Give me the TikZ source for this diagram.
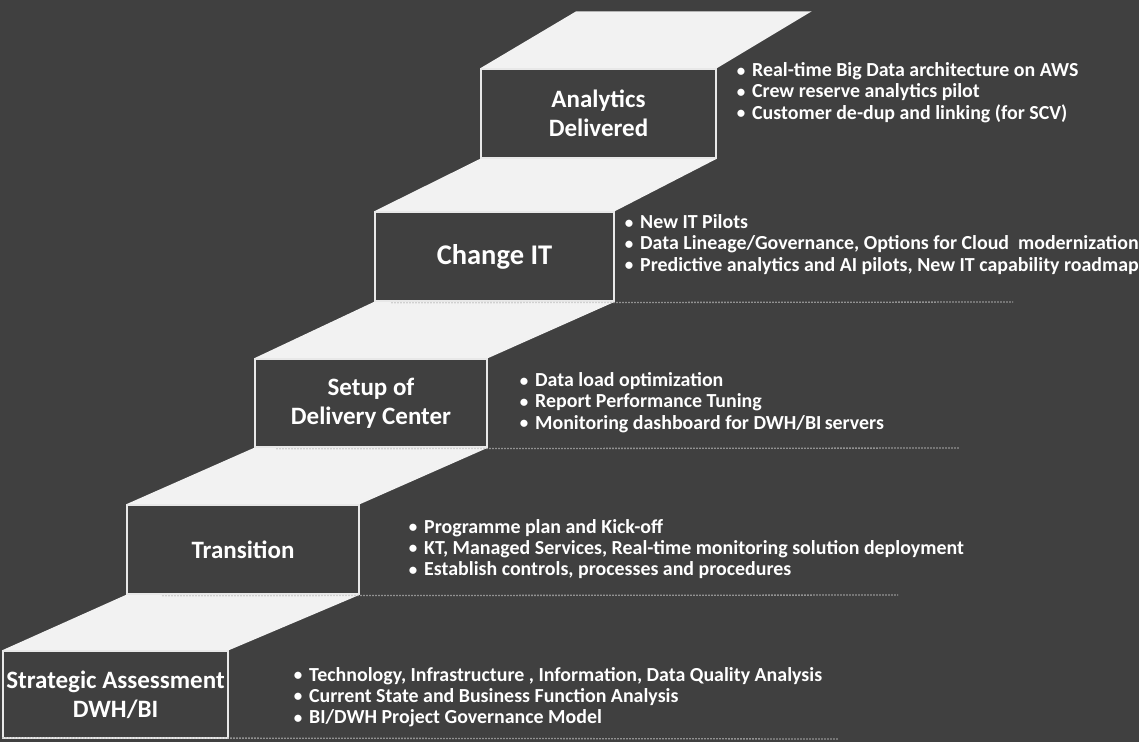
\documentclass[tikz,border=0pt]{standalone}
\usepackage{fontspec}
\setmainfont{Carlito}
\definecolor{bg}{HTML}{404040}
\definecolor{tread}{HTML}{F2F2F2}
\definecolor{edge}{HTML}{E8E8E8}
\definecolor{dots}{HTML}{BFBFBF}
\newcommand\blt{\makebox[0pt][r]{\raisebox{0.5pt}{\scalebox{0.85}{\textbullet}}\hspace{7pt}}}
\tikzset{
  stepbox/.style={draw=edge, line width=1.5pt, fill=bg, text=white, inner sep=0pt,
    align=center, font=\bfseries\fontsize{25}{29}\selectfont},
  treadfill/.style={fill=tread},
  dotline/.style={draw=dots, line width=1.3pt, dash pattern=on 1.3pt off 1.7pt},
  bullets/.style={text=white, inner sep=0pt, anchor=base west,
    font=\bfseries\fontsize{19.9}{21.4}\selectfont}
}
\begin{document}
\begin{tikzpicture}[x=1pt,y=-1pt]
\fill[bg] (0,0) rectangle (1139,742);
\useasboundingbox (0,0) rectangle (1139,742);

% boxes (placed first for anchors, redrawn on top later)
\path
  (115.5,694.5) node[stepbox, minimum width=225pt, minimum height=87pt] (b1) {}
  (243,549.5)   node[stepbox, minimum width=232pt, minimum height=89pt] (b2) {}
  (371,403)     node[stepbox, minimum width=232pt, minimum height=88pt] (b3) {}
  (494.5,256.5) node[stepbox, minimum width=239pt, minimum height=89pt] (b4) {}
  (598.5,113.5) node[stepbox, minimum width=235pt, minimum height=89pt] (b5) {};
\coordinate (tl) at ([shift={(96,-57)}]b5.north west);
\coordinate (tr) at ([shift={(95,-57)}]b5.north east);

% treads
\fill[treadfill] (b1.north west) -- (b2.south west) -- (b2.south east) -- (b1.north east) -- cycle;
\fill[treadfill] (b2.north west) -- (b3.south west) -- (b3.south east) -- (b2.north east) -- cycle;
\fill[treadfill] (b3.north west) -- (b4.south west) -- (b4.south east) -- (b3.north east) -- cycle;
\fill[treadfill] (b4.north west) -- (b5.south west) -- (b5.south east) -- (b4.north east) -- cycle;
\fill[treadfill] (b5.north west) -- (tl) -- (tr) -- (b5.north east) -- cycle;

% boxes with labels
\node[stepbox, minimum width=225pt, minimum height=87pt] at (b1) {Strategic Assessment\\DWH/BI};
\node[stepbox, minimum width=232pt, minimum height=89pt] at (b2) {Transition};
\node[stepbox, minimum width=232pt, minimum height=88pt] at (b3) {Setup of\\Delivery Center};
\node[stepbox, minimum width=239pt, minimum height=89pt, font=\bfseries\fontsize{28.5}{32}\selectfont] at (b4) {Change IT};
\node[stepbox, minimum width=235pt, minimum height=89pt] at (b5) {Analytics\\Delivered};

% dotted base lines
\coordinate (e1) at (838,739);
\coordinate (e2) at (898,595);
\coordinate (e3) at (960,448);
\coordinate (e4) at (1013,302);
\draw[dotline] ([yshift=1pt]b1.south west) -- (e1);
\draw[dotline] ([shift={(36,1)}]b2.south west) -- (e2);
\draw[dotline] ([shift={(22,1)}]b3.south west) -- (e3);
\draw[dotline] ([shift={(17,1)}]b4.south west) -- (e4);

% bullet lists
\node[bullets] (l5) at (752,76.5) {\begin{tabular}[t]{@{}l@{}}
\blt Real-time Big Data architecture on AWS\\
\blt Crew reserve analytics pilot\\
\blt Customer de-dup and linking (for SCV)\end{tabular}};
\node[bullets] (l4) at (640,228.5) {\begin{tabular}[t]{@{}l@{}}
\blt New IT Pilots\\
\blt Data Lineage/Governance, Options for Cloud~ modernization\\
\blt Predictive analytics and AI pilots, New IT capability roadmap\end{tabular}};
\node[bullets] (l3) at (535,386.5) {\begin{tabular}[t]{@{}l@{}}
\blt Data load optimization\\
\blt Report Performance Tuning\\
\blt Monitoring dashboard for DWH/BI\,servers\end{tabular}};
\node[bullets] (l2) at (424,533) {\begin{tabular}[t]{@{}l@{}}
\blt Programme plan and Kick-off\\
\blt KT, Managed Services, Real-time monitoring solution deployment\\
\blt Establish controls, processes and procedures\end{tabular}};
\node[bullets] (l1) at (309,681) {\begin{tabular}[t]{@{}l@{}}
\blt Technology, Infrastructure , Information, Data Quality Analysis\\
\blt Current State and Business Function Analysis\\
\blt BI/DWH Project Governance Model\end{tabular}};
\end{tikzpicture}
\end{document}
